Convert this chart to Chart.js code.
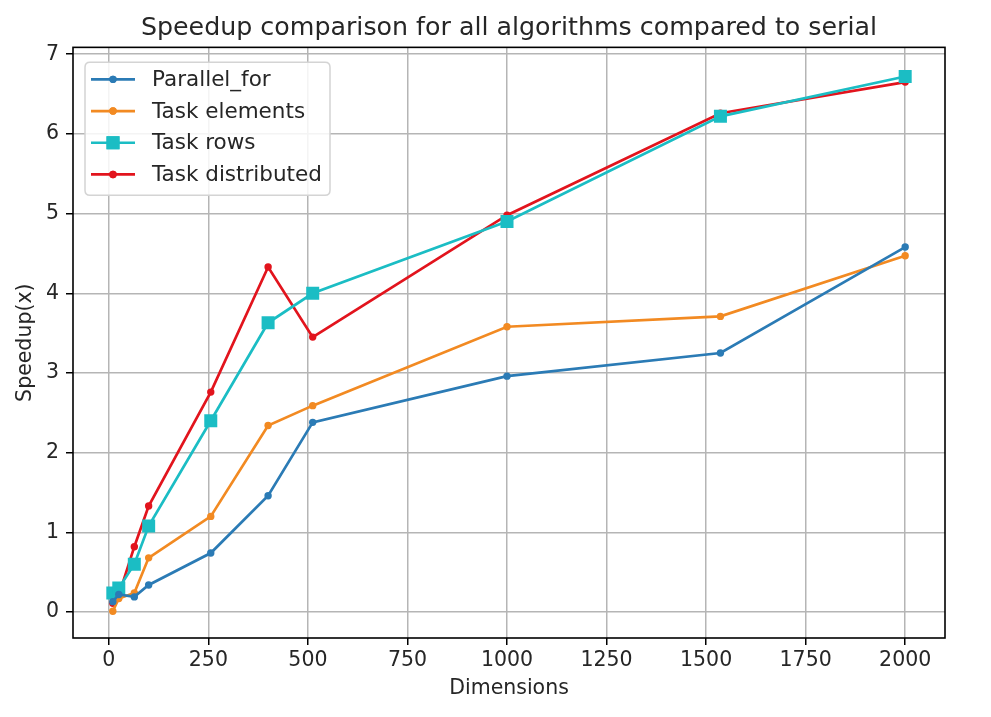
<!DOCTYPE html>
<html>
<head>
<meta charset="utf-8">
<script src="https://cdn.jsdelivr.net/npm/chart.js@4.4.1/dist/chart.umd.min.js"></script>
<style>
  html, body { margin: 0; padding: 0; background: #ffffff; }
  #wrap { width: 991px; height: 717px; position: relative; }
</style>
</head>
<body>
<div id="wrap"><canvas id="c" width="991" height="717"></canvas></div>
<script>
// ---- data ----
const dimensions = [10, 25, 64, 100, 256, 400, 512, 1000, 1536, 2000];
const parallelFor = [0.13, 0.22, 0.19, 0.34, 0.74, 1.46, 2.38, 2.96, 3.25, 4.58];
const taskElements = [0.01, 0.17, 0.24, 0.68, 1.20, 2.34, 2.59, 3.58, 3.71, 4.47];
const taskRows = [0.24, 0.30, 0.60, 1.08, 2.40, 3.63, 4.00, 4.90, 6.22, 6.72];
const taskDistributed = [0.11, 0.21, 0.82, 1.33, 2.76, 4.33, 3.45, 4.98, 6.26, 6.65];
const seriesNames = ['Parallel_for', 'Task elements', 'Task rows', 'Task distributed'];
const xTickValues = [0, 250, 500, 750, 1000, 1250, 1500, 1750, 2000];
const yTickValues = [0, 1, 2, 3, 4, 5, 6, 7];
const titleText = 'Speedup comparison for all algorithms compared to serial';
const xTitle = 'Dimensions';
const yTitle = 'Speedup(x)';

const FONT = "'DejaVu Sans', sans-serif";
const TXT = '#262626';

function pts(vals) { return dimensions.map((d, i) => ({x: d, y: vals[i]})); }

function ds(label, vals, color, style, radius) {
  return {
    label, data: pts(vals),
    borderColor: color, backgroundColor: color,
    borderWidth: 2.7, pointStyle: style, pointRadius: radius,
    pointHoverRadius: radius, pointBorderWidth: 0, tension: 0
  };
}

const datasets = [
  ds(seriesNames[0], parallelFor, '#2b7bb5', 'circle', 3.7),
  ds(seriesNames[1], taskElements, '#f28a22', 'circle', 3.7),
  ds(seriesNames[2], taskRows, '#1bbdc4', 'rect', 9.2),
  ds(seriesNames[3], taskDistributed, '#e2141d', 'circle', 3.7)
];

const framePlugin = {
  id: 'frame',
  afterDatasetsDraw(chart) {
    const a = chart.chartArea, ctx = chart.ctx;
    ctx.save();
    ctx.strokeStyle = '#000';
    ctx.lineWidth = 1.6;
    ctx.strokeRect(a.left, a.top, a.right - a.left, a.bottom - a.top);
    ctx.restore();
  }
};

const legendPlugin = {
  id: 'mplLegend',
  afterDraw(chart) {
    const a = chart.chartArea, ctx = chart.ctx;
    const x0 = a.left + 12, y0 = a.top + 15, w = 245, h = 133;
    ctx.save();
    const r = 5;
    ctx.beginPath();
    ctx.moveTo(x0 + r, y0);
    ctx.lineTo(x0 + w - r, y0); ctx.quadraticCurveTo(x0 + w, y0, x0 + w, y0 + r);
    ctx.lineTo(x0 + w, y0 + h - r); ctx.quadraticCurveTo(x0 + w, y0 + h, x0 + w - r, y0 + h);
    ctx.lineTo(x0 + r, y0 + h); ctx.quadraticCurveTo(x0, y0 + h, x0, y0 + h - r);
    ctx.lineTo(x0, y0 + r); ctx.quadraticCurveTo(x0, y0, x0 + r, y0);
    ctx.closePath();
    ctx.fillStyle = 'rgba(255,255,255,0.85)';
    ctx.fill();
    ctx.strokeStyle = '#d4d4d4';
    ctx.lineWidth = 1.5;
    ctx.stroke();
    chart.data.datasets.forEach((d, i) => {
      const cy = y0 + 17 + i * 31.7;
      ctx.strokeStyle = d.borderColor;
      ctx.lineWidth = d.borderWidth;
      ctx.beginPath();
      ctx.moveTo(x0 + 6, cy); ctx.lineTo(x0 + 50, cy);
      ctx.stroke();
      ctx.fillStyle = d.backgroundColor;
      Chart.helpers.drawPoint(ctx, {pointStyle: d.pointStyle, radius: d.pointRadius, rotation: 0, borderWidth: 0}, x0 + 28, cy);
      ctx.fill();
      ctx.fillStyle = TXT;
      ctx.font = "21.5px " + FONT;
      ctx.textBaseline = 'middle';
      ctx.textAlign = 'left';
      ctx.fillText(d.label, x0 + 67, cy + 1);
    });
    ctx.restore();
  }
};

new Chart(document.getElementById('c'), {
  type: 'line',
  data: { datasets },
  plugins: [framePlugin, legendPlugin],
  options: {
    responsive: false,
    animation: false,
    devicePixelRatio: 1,
    layout: { padding: { left: 0, right: 46, top: 0, bottom: 0 } },
    plugins: {
      legend: { display: false },
      tooltip: { enabled: false },
      title: {
        display: true, text: titleText, color: TXT, fullSize: false,
        font: { family: FONT, size: 25.3, weight: 'normal' },
        padding: { top: 13, bottom: 4 }
      }
    },
    scales: {
      x: {
        type: 'linear', min: -90, max: 2100,
        afterBuildTicks: s => { s.ticks = xTickValues.map(v => ({value: v})); },
        afterFit: s => { s.height = 79; },
        grid: { color: '#b5b5b5', lineWidth: 1.5, tickColor: '#000', tickLength: 7, tickWidth: 1.5 },
        border: { display: false },
        ticks: { color: TXT, font: { family: FONT, size: 20.5 }, padding: 3, maxRotation: 0, autoSkip: false,
                 callback: v => String(v) },
        title: { display: true, text: xTitle, color: TXT, font: { family: FONT, size: 20.5 }, padding: { top: 0, bottom: 16 } }
      },
      y: {
        type: 'linear', min: -0.326, max: 7.086,
        afterBuildTicks: s => { s.ticks = yTickValues.map(v => ({value: v})); },
        afterFit: s => { s.width = 73; },
        grid: { color: '#b5b5b5', lineWidth: 1.5, tickColor: '#000', tickLength: 7, tickWidth: 1.5 },
        border: { display: false },
        ticks: { color: TXT, font: { family: FONT, size: 20.5 }, padding: 7, autoSkip: false,
                 callback: v => String(v) },
        title: { display: true, text: yTitle, color: TXT, font: { family: FONT, size: 20.5 }, padding: { top: 13, bottom: 0 } }
      }
    }
  }
});
</script>
</body>
</html>
